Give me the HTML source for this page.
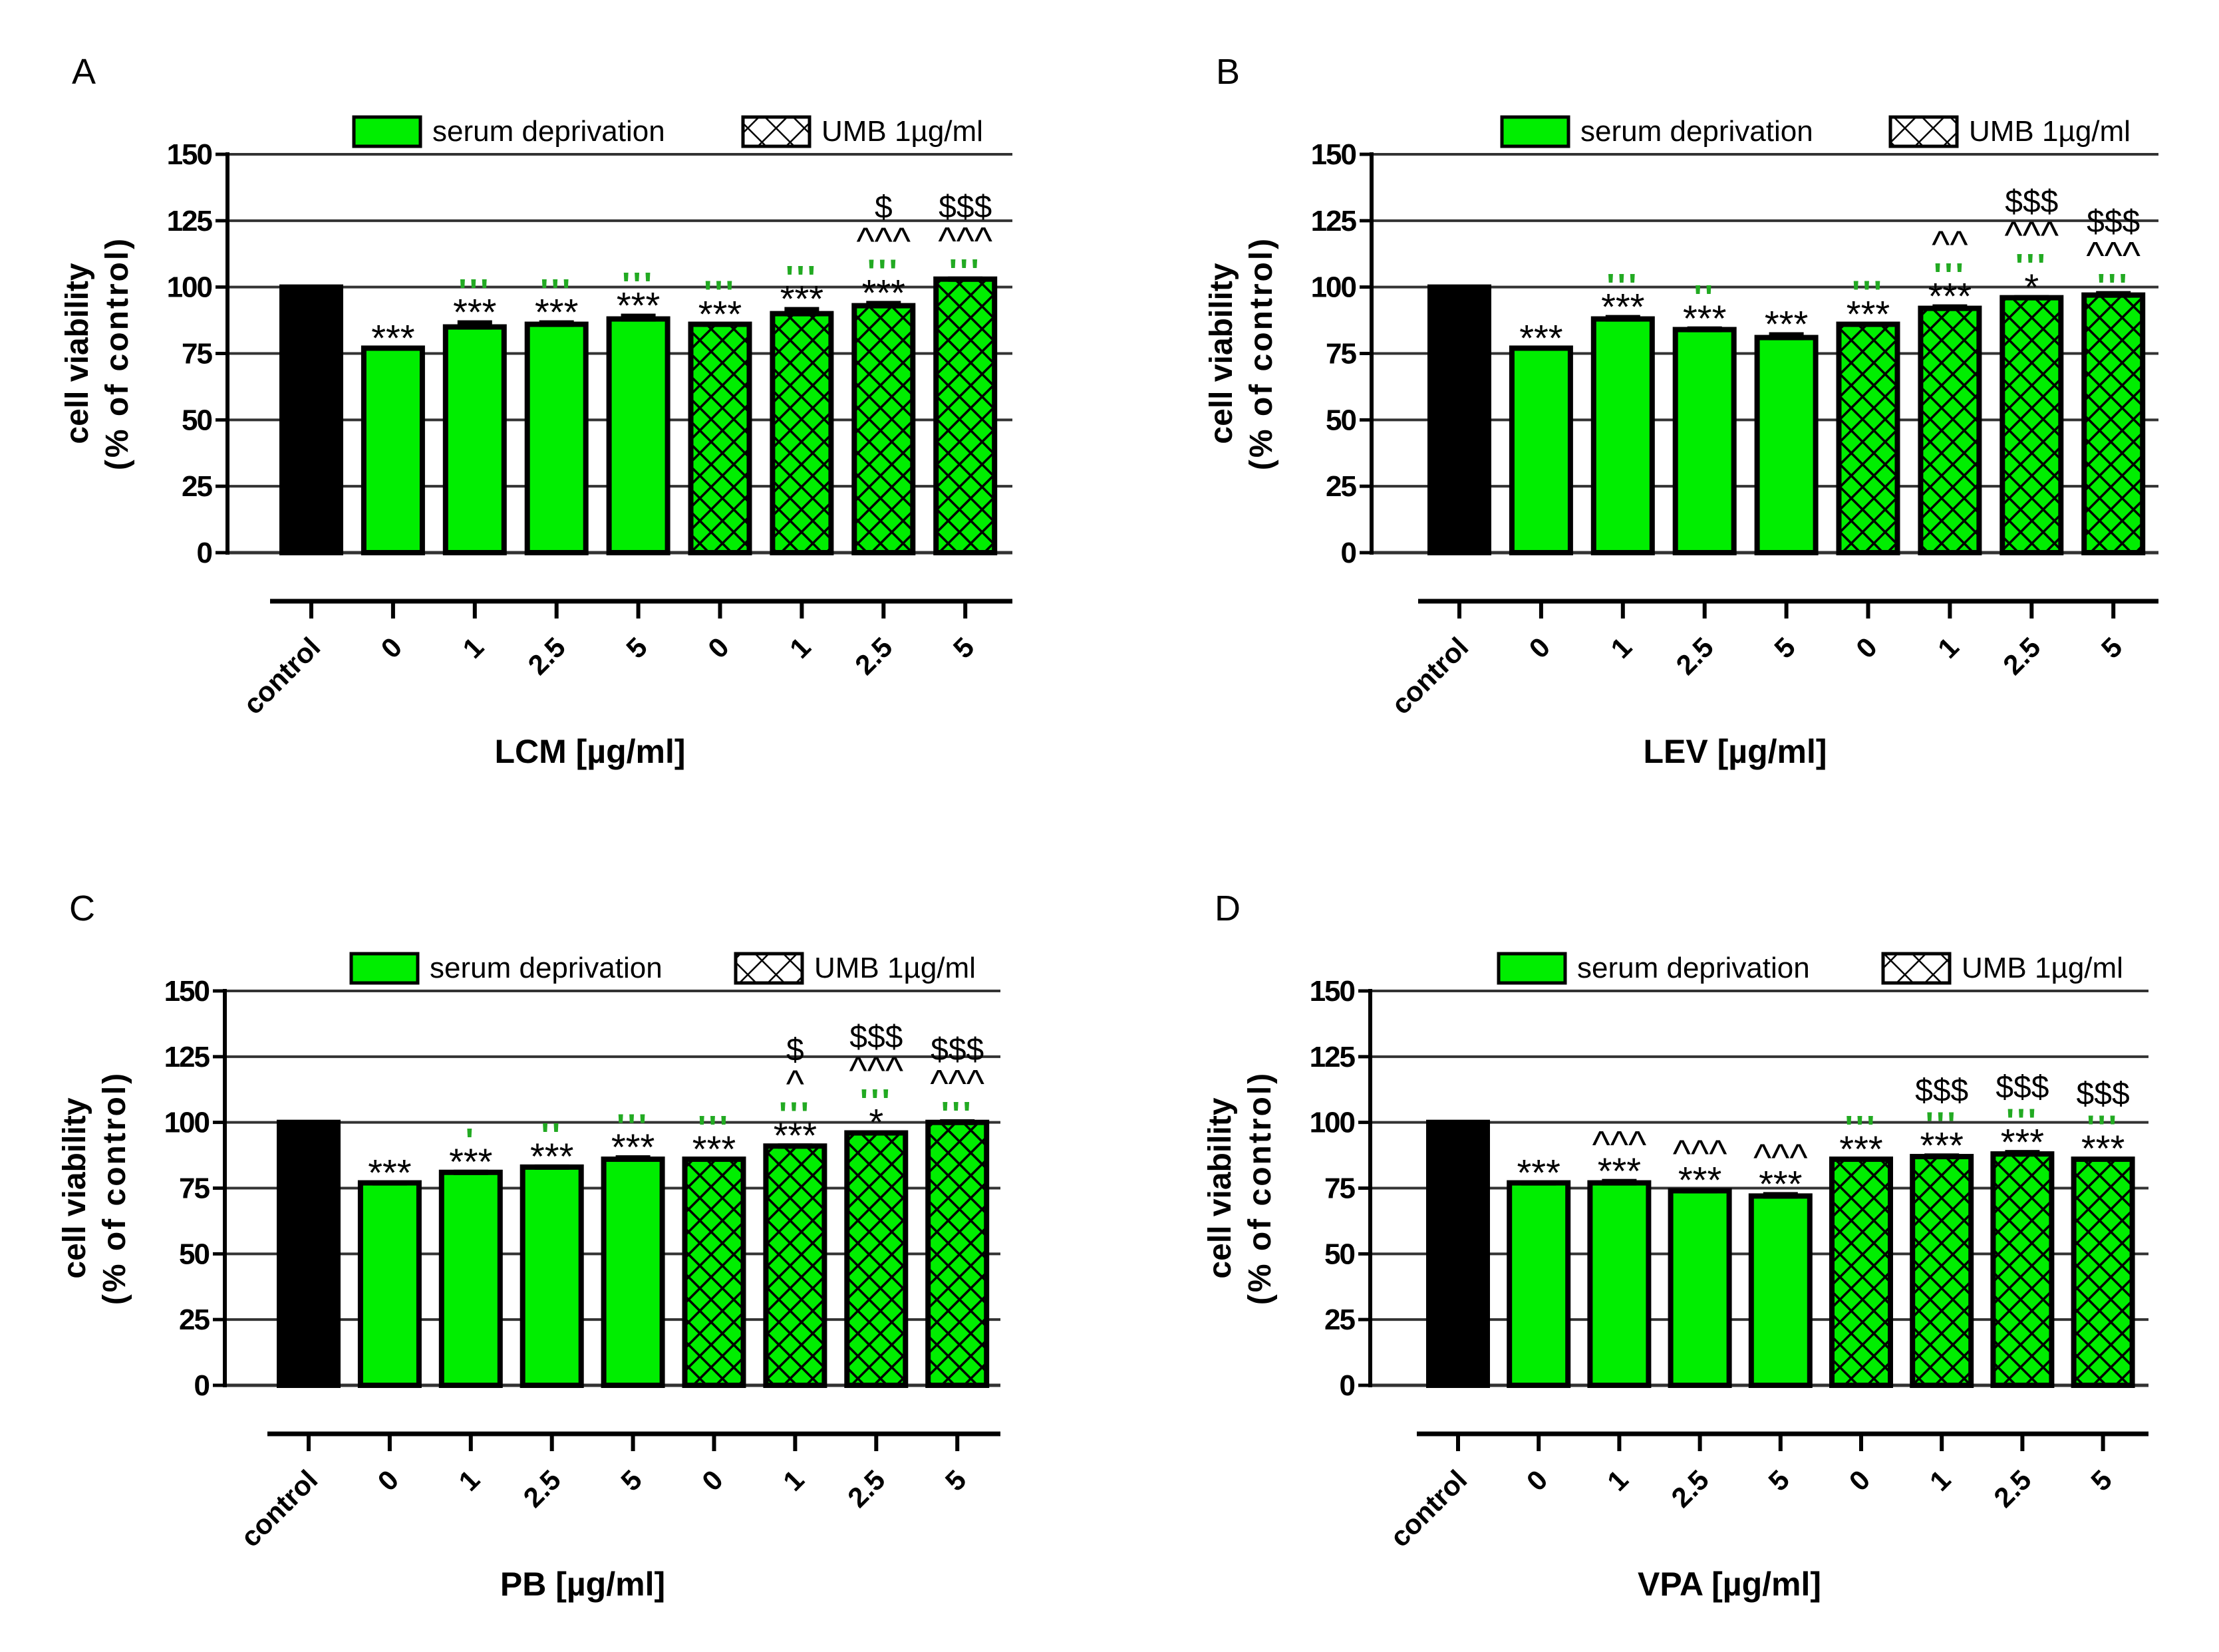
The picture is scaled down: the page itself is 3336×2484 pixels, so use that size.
<!DOCTYPE html>
<html><head><meta charset="utf-8">
<style>
html,body{margin:0;padding:0;background:#fff;}
svg{display:block;}
text{font-family:"Liberation Sans",Arial,sans-serif;}
</style></head>
<body>
<svg id="fig" width="3336" height="2484" viewBox="0 0 3336 2484" xmlns="http://www.w3.org/2000/svg">
<defs>
<pattern id="hatch" patternUnits="userSpaceOnUse" width="24" height="24" patternTransform="rotate(45)">
<rect width="24" height="24" fill="#00ee00"/>
<line x1="0" y1="0" x2="0" y2="24" stroke="#000" stroke-width="7"/>
<line x1="0" y1="0" x2="24" y2="0" stroke="#000" stroke-width="7"/>
</pattern>
<pattern id="hatchLeg" patternUnits="userSpaceOnUse" width="30" height="30" patternTransform="rotate(45)">
<rect width="30" height="30" fill="#fff"/>
<line x1="0" y1="0" x2="0" y2="30" stroke="#000" stroke-width="5"/>
<line x1="0" y1="0" x2="30" y2="0" stroke="#000" stroke-width="5"/>
</pattern>
</defs>
</svg>
<script>
const categories = ["control","0","1","2.5","5","0","1","2.5","5"];
const yTicks = [0,25,50,75,100,125,150];
const valuesA = [100,77,85,86,88,86,90,93,103];
const valuesB = [100,77,88,84,81,86,92,96,97];
const valuesC = [100,77,81,83,86,86,91,96,100];
const valuesD = [100,77,77,74,72,86,87,88,86];
const errA = [0.5,0.8,2.5,1.5,2,0.8,2.5,1.8,1];
const errB = [0.5,0.8,1.5,1.2,2,0.8,1.5,1,1.5];
const errC = [0.5,0.8,1,1,1.5,0.8,1,1,1.2];
const errD = [0.5,0.8,1.5,1,1.5,0.8,1.2,1.5,1];
const starsA = ["","***","***","***","***","***","***","***",""];
const starsB = ["","***","***","***","***","***","***","*",""];
const starsC = ["","***","***","***","***","***","***","*",""];
const starsD = ["","***","***","***","***","***","***","***","***"];
const greenA = ["","","'''","'''","'''","'''","'''","'''","'''"];
const greenB = ["","","'''","''","","'''","'''","'''","'''"];
const greenC = ["","","'","''","'''","'''","'''","'''","'''"];
const greenD = ["","","","","","'''","'''","'''","'''"];
const caretA = ["","","","","","","","^^^","^^^"];
const caretB = ["","","","","","","^^","^^^","^^^"];
const caretC = ["","","","","","","^","^^^","^^^"];
const caretD = ["","","^^^","^^^","^^^","","","",""];
const dollarA = ["","","","","","","","$","$$$"];
const dollarB = ["","","","","","","","$$$","$$$"];
const dollarC = ["","","","","","","$","$$$","$$$"];
const dollarD = ["","","","","","","$$$","$$$","$$$"];
const drugs = ["LCM","LEV","PB","VPA"];
const letters = ["A","B","C","D"];

const NS="http://www.w3.org/2000/svg";
const svg=document.getElementById('fig');
function mk(tag,attrs,parent,txt){const e=document.createElementNS(NS,tag);for(const k in attrs)e.setAttribute(k,attrs[k]);if(txt!==undefined)e.textContent=txt;(parent||svg).appendChild(e);return e;}

const panels=[
 {axisX:342,top:232,base:831,right:1522,c0:468,step:122.9,vals:valuesA,err:errA,st:starsA,gr:greenA,ca:caretA,dl:dollarA,leg1:532,leg2:1117},
 {axisX:2062,top:232,base:831,right:3245,c0:2194,step:122.9,vals:valuesB,err:errB,st:starsB,gr:greenB,ca:caretB,dl:dollarB,leg1:2258,leg2:2842},
 {axisX:338,top:1490,base:2083,right:1504,c0:464,step:121.9,vals:valuesC,err:errC,st:starsC,gr:greenC,ca:caretC,dl:dollarC,leg1:528,leg2:1106},
 {axisX:2060,top:1490,base:2083,right:3230,c0:2192,step:121.2,vals:valuesD,err:errD,st:starsD,gr:greenD,ca:caretD,dl:dollarD,leg1:2253,leg2:2831}
];

panels.forEach((p,pi)=>{
 const g=mk('g',{});
 
 
 const y=v=>p.base-(v/150)*(p.base-p.top);
 const x=i=>p.c0+i*p.step;
 const bw=88;
 const lt=mk('text',{x:p.axisX-234,y:p.top-106,'font-size':54},g,letters[pi]);
 
 
 const l1=mk('rect',{x:p.leg1,y:p.top-56,width:100,height:44,fill:'#00ee00',stroke:'#000','stroke-width':5},g);
 
 
 const lt1=mk('text',{x:p.leg1+118,y:p.top-20,'font-size':44},g,'serum deprivation');
 
 
 const l2=mk('rect',{x:p.leg2,y:p.top-56,width:100,height:44,fill:'url(#hatchLeg)',stroke:'#000','stroke-width':5},g);
 
 
 const lt2=mk('text',{x:p.leg2+118,y:p.top-20,'font-size':44},g,'UMB 1\u00b5g/ml');
 
 
 yTicks.forEach(t=>{
  const gl=mk('line',{x1:p.axisX,x2:p.right,y1:y(t),y2:y(t),stroke:'#333','stroke-width':t===0?5:4},g);
  
  
  mk('line',{x1:p.axisX-18,x2:p.axisX,y1:y(t),y2:y(t),stroke:'#000','stroke-width':5},g);
  const tl=mk('text',{x:p.axisX-24,y:y(t)+15,'font-size':44,'font-weight':'bold','text-anchor':'end','letter-spacing':-2},g,String(t));
  
  
 });
 const ax=mk('line',{x1:p.axisX,x2:p.axisX,y1:p.top-3,y2:p.base+3,stroke:'#000','stroke-width':6},g);
 
 
 const yt=mk('text',{transform:`translate(${p.axisX-210},${(p.top+p.base)/2}) rotate(-90)`,'font-size':48,'font-weight':'bold','text-anchor':'middle'},g);
 
 
 mk('tspan',{x:0,dy:0},yt,'cell viability');
 mk('tspan',{x:0,dy:60,'letter-spacing':3},yt,'(% of control)');
 p.vals.forEach((v,i)=>{
  const cx=x(i);
  const fill=i===0?'#000':(i>=5?'url(#hatch)':'#00ee00');
  const b=mk('rect',{x:cx-bw/2,y:y(v),width:bw,height:p.base-y(v),fill:fill,stroke:'#000','stroke-width':8},g);
  
  
  const et=y(v+p.err[i]);
  const eb=mk('rect',{x:cx-26,y:et,width:52,height:Math.max(4,y(v)-et+4),fill:'#000'},g);
  
  
  let c=et-22;
  const labs=[[p.st[i],'#000',56,0.52,36,'normal'],[p.gr[i],'#22aa22',52,0.62,38,'bold'],[p.ca[i],'#000',58,0.45,46,'normal'],[p.dl[i],'#000',48,0.36,0,'normal']];
  labs.forEach(([t,col,fs,k,h,fw])=>{
   if(!t)return;
   const tt=mk('text',{x:cx,y:c+k*fs,'font-size':fs,'text-anchor':'middle',fill:col,'font-weight':fw,'letter-spacing':fw==='bold'?4:0},g,t);
   
   
   c-=h;
  });
 });
 const xa=p.base+73;
 const xl=mk('line',{x1:p.c0-62,x2:p.right,y1:xa,y2:xa,stroke:'#000','stroke-width':7},g);
 
 
 categories.forEach((cat,i)=>{
  mk('line',{x1:x(i),x2:x(i),y1:xa,y2:xa+26,stroke:'#000','stroke-width':6},g);
  const tl=mk('text',{transform:`translate(${x(i)+16},${xa+72}) rotate(-45)`,'font-size':42,'font-weight':'bold','text-anchor':'end'},g,cat);
  
  
 });
 const xt=mk('text',{x:(p.axisX+p.right)/2-45,y:p.base+316,'font-size':50,'font-weight':'bold','text-anchor':'middle'},g,drugs[pi]+' [\u00b5g/ml]');
 
 
});
</script>
</body></html>
